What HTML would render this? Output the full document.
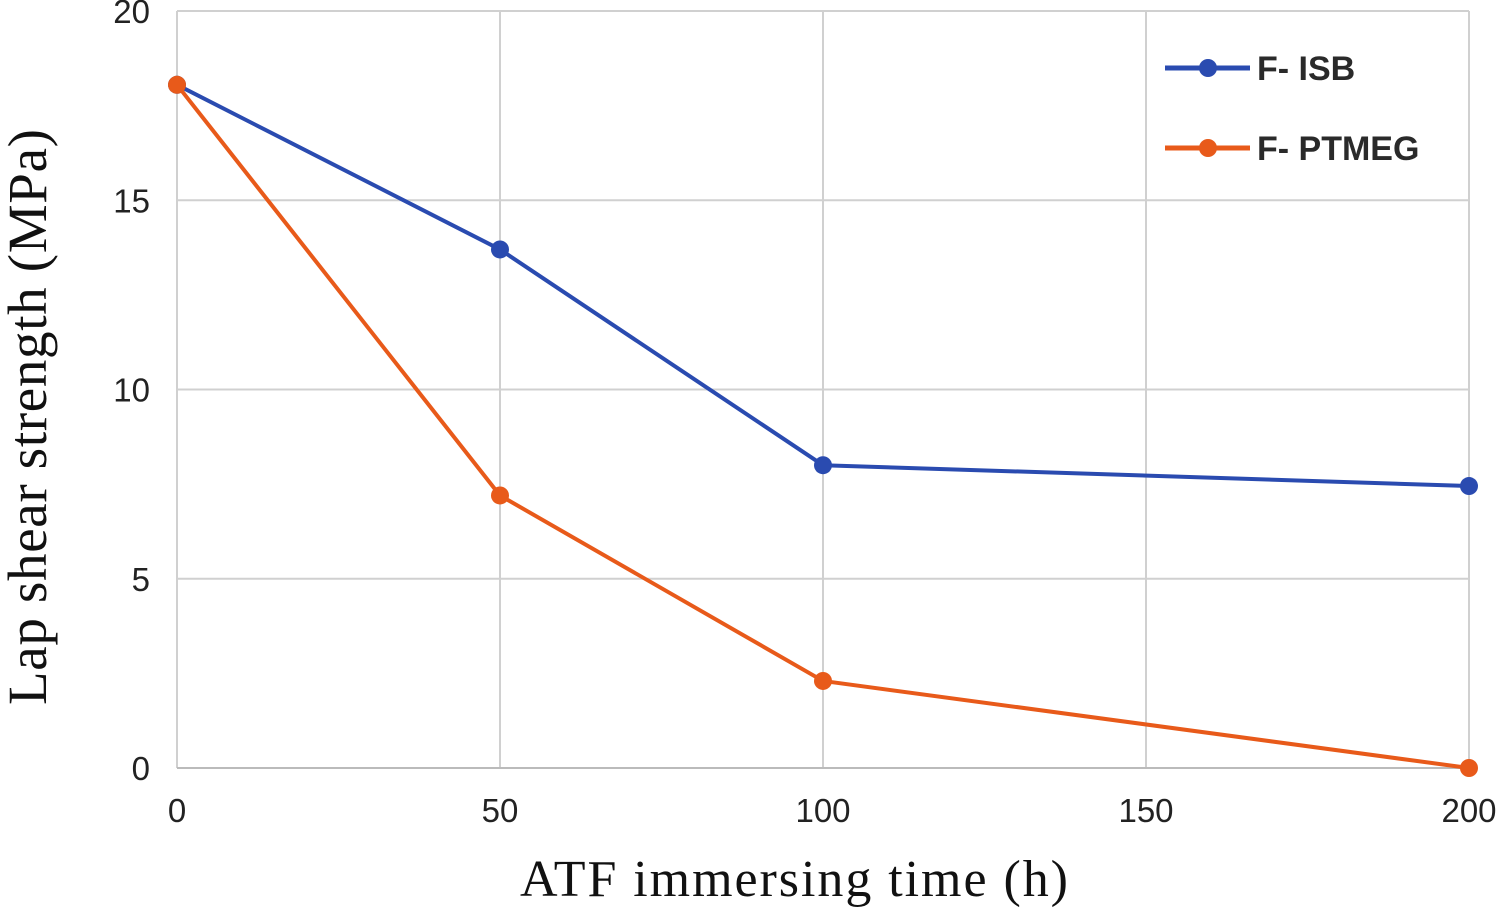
<!DOCTYPE html>
<html><head><meta charset="utf-8"><style>
html,body{margin:0;padding:0;background:#fff;}
svg{display:block;}
.tick{font-family:"Liberation Sans",sans-serif;font-size:33px;fill:#222;}
.title{font-family:"Liberation Serif",serif;font-size:52px;fill:#111;}
.ytitle{font-family:"Liberation Serif",serif;font-size:55px;fill:#111;}
.leg{font-family:"Liberation Sans",sans-serif;font-size:34px;font-weight:bold;fill:#2a2a2a;}
</style></head><body>
<svg id="chart" width="1502" height="910"></svg>
<script>
const xValues=[0,50,100,200];
const isbValues=[18.05,13.7,8.0,7.45];
const ptmegValues=[18.05,7.2,2.3,0.0];
const xTicks=[0,50,100,150,200];
const yTicks=[0,5,10,15,20];
const seriesNames=["F- ISB","F- PTMEG"];
const colors=["#2a4bb0","#e85a1a"];
const L=177,R=1469,T=11,B=768;
const xs=v=>L+(v-0)/(200-0)*(R-L);
const ys=v=>B-(v-0)/(20-0)*(B-T);
const svg=document.getElementById('chart');
const NS='http://www.w3.org/2000/svg';
function mk(tag,attrs,parent){const e=document.createElementNS(NS,tag);for(const k in attrs)e.setAttribute(k,attrs[k]);(parent||svg).appendChild(e);return e;}
yTicks.forEach(t=>{
 const g=mk('line',{x1:L,x2:R,y1:ys(t),y2:ys(t),stroke:'#d0d0d0','stroke-width':2});
 
 
 const tx=mk('text',{x:150,y:ys(t)+12,'text-anchor':'end',class:'tick'});
 tx.textContent=t;
 
 
});
xTicks.forEach(t=>{
 const g=mk('line',{x1:xs(t),x2:xs(t),y1:T,y2:B,stroke:'#d0d0d0','stroke-width':2});
 
 
 const tx=mk('text',{x:xs(t),y:822,'text-anchor':'middle',class:'tick'});
 tx.textContent=t;
 
 
});
const ax=mk('line',{x1:L,x2:R,y1:B,y2:B,stroke:'#bbb','stroke-width':2});


[isbValues,ptmegValues].forEach((vals,si)=>{
 const pts=vals.map((v,i)=>xs(xValues[i])+','+ys(v)).join(' ');
 const pl=mk('polyline',{points:pts,fill:'none',stroke:colors[si],'stroke-width':4,'stroke-linejoin':'round'});
 
 
 vals.forEach((v,i)=>{
  const c=mk('circle',{cx:xs(xValues[i]),cy:ys(v),r:9,fill:colors[si]});
  
  
 });
 const ly=68+si*80;
 const g=mk('g',{});
 
 
 mk('line',{x1:1165,x2:1250,y1:ly,y2:ly,stroke:colors[si],'stroke-width':5},g);
 mk('circle',{cx:1208,cy:ly,r:9,fill:colors[si]},g);
 const t=mk('text',{x:1257,y:ly+12,class:'leg'},g);
 t.textContent=seriesNames[si];
});
const xt=mk('text',{x:794,y:896,'text-anchor':'middle',class:'title','textLength':548});
xt.textContent='ATF immersing  time  (h)';


const yt=mk('text',{x:0,y:0,'text-anchor':'middle',class:'ytitle','textLength':576,transform:'translate(46,417) rotate(-90)'});
yt.textContent='Lap shear strength (MPa)';


</script>
</body></html>
